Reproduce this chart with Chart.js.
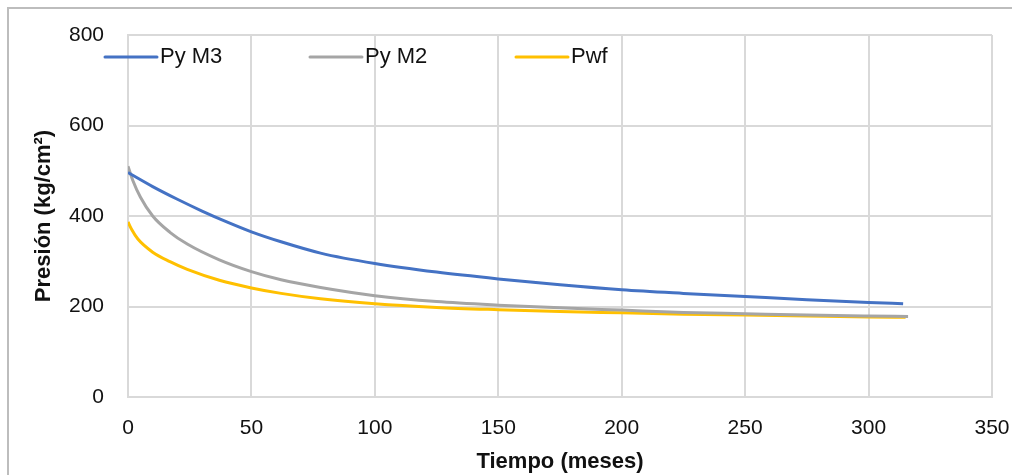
<!DOCTYPE html>
<html><head><meta charset="utf-8">
<script src="https://cdn.jsdelivr.net/npm/chart.js@4/dist/chart.umd.min.js"></script>
<style>
html,body{margin:0;padding:0;background:#fff;}
#wrap{position:relative;width:1012px;height:475px;}
#frame{position:absolute;left:7px;top:7px;right:-2px;bottom:-2px;border-left:2px solid #bdbdbd;border-top:2px solid #bdbdbd;}
canvas{position:absolute;left:0;top:0;}
</style></head>
<body><div id="wrap"><div id="frame"></div><canvas id="c" width="1012" height="475"></canvas></div>
<script>
const seriesNames = ["Py M3", "Py M2", "Pwf"];
const seriesColors = ["#4472C4", "#A5A5A5", "#FFC000"];
const mesesM3 = [0, 10, 20, 30, 40, 50, 62, 78, 100, 125, 150, 175, 200, 225, 250, 275, 300, 314];
const pyM3    = [496, 465, 437, 411, 387, 365, 343, 318, 295, 276, 261, 248, 237, 229, 222, 215, 209, 206];
const mesesM2 = [0, 2, 5, 10, 17, 24, 37, 50, 62, 78, 100, 125, 150, 175, 200, 225, 250, 275, 300, 316];
const pyM2    = [510, 478, 442, 400, 364, 338, 303, 277, 259, 242, 224, 211, 203, 197, 192, 187, 184, 181, 179, 178];
const mesesPwf = [0, 1.5, 4, 10, 17, 24, 37, 50, 62, 78, 100, 125, 150, 175, 200, 225, 250, 275, 300, 315];
const pwf      = [387, 370, 349, 320, 299, 282, 258, 241, 229, 217, 206, 198, 193, 189, 186, 183, 181, 179, 177, 176];
const xTicks = [0, 50, 100, 150, 200, 250, 300, 350];
const yTicks = [0, 200, 400, 600, 800];
const xTitle = "Tiempo (meses)";
const yTitle = "Presión (kg/cm²)";

const FONT = "'Liberation Sans', Arial, sans-serif";
function pts(xs, ys){ return xs.map((x,i)=>({x:x, y:ys[i]})); }

const legendPlugin = {
  id: 'fixedLegend',
  afterDraw(chart){
    const ctx = chart.ctx;
    const pos = [105, 310, 516];
    ctx.save();
    ctx.font = "22px " + FONT;
    ctx.textBaseline = 'middle';
    ctx.fillStyle = '#111';
    chart.data.datasets.forEach((ds,i)=>{
      const x = pos[i], y = 57;
      ctx.strokeStyle = ds.borderColor;
      ctx.lineWidth = 3;
      ctx.lineCap = 'round';
      ctx.beginPath(); ctx.moveTo(x, y); ctx.lineTo(x+52, y); ctx.stroke();
      ctx.fillText(ds.label, x+55, y);
    });
    ctx.restore();
  }
};

new Chart(document.getElementById('c'), {
  type: 'line',
  data: {
    datasets: [
      {label: seriesNames[0], data: pts(mesesM3, pyM3), borderColor: seriesColors[0], backgroundColor: seriesColors[0]},
      {label: seriesNames[1], data: pts(mesesM2, pyM2), borderColor: seriesColors[1], backgroundColor: seriesColors[1]},
      {label: seriesNames[2], data: pts(mesesPwf, pwf), borderColor: seriesColors[2], backgroundColor: seriesColors[2]}
    ].map(d=>Object.assign(d,{borderWidth:3, pointRadius:0, cubicInterpolationMode:'monotone', fill:false}))
  },
  options: {
    responsive: false,
    animation: false,
    layout: {padding: {left: 20, top: 35, right: 20, bottom: 0}},
    plugins: {legend: {display: false}, tooltip: {enabled: false}},
    scales: {
      x: {
        type: 'linear', min: 0, max: 350,
        afterBuildTicks(s){ s.ticks = xTicks.map(v=>({value:v})); },
        afterFit(s){ s.height = 78; s.paddingRight = 0; s.paddingLeft = 0; },
        grid: {color: '#d9d9d9', lineWidth: 2, drawTicks: false},
        border: {color: '#d9d9d9', width: 2},
        ticks: {font: {size: 21, family: FONT}, color: '#111', padding: 19, maxRotation: 0},
        title: {display: true, text: xTitle, font: {size: 22, weight: 'bold', family: FONT}, color: '#111', padding: {top: 0, bottom: 0}}
      },
      y: {
        type: 'linear', min: 0, max: 800,
        afterBuildTicks(s){ s.ticks = yTicks.map(v=>({value:v})); },
        afterFit(s){ s.width = 108; s.paddingTop = 0; s.paddingBottom = 0; },
        grid: {color: '#d9d9d9', lineWidth: 2, drawTicks: false},
        border: {color: '#d9d9d9', width: 2},
        ticks: {font: {size: 21, family: FONT}, color: '#111', padding: 24},
        title: {display: true, text: yTitle, font: {size: 22, weight: 'bold', family: FONT}, color: '#111', padding: {top: 11, bottom: 0}}
      }
    }
  },
  plugins: [legendPlugin]
});
</script></body></html>
